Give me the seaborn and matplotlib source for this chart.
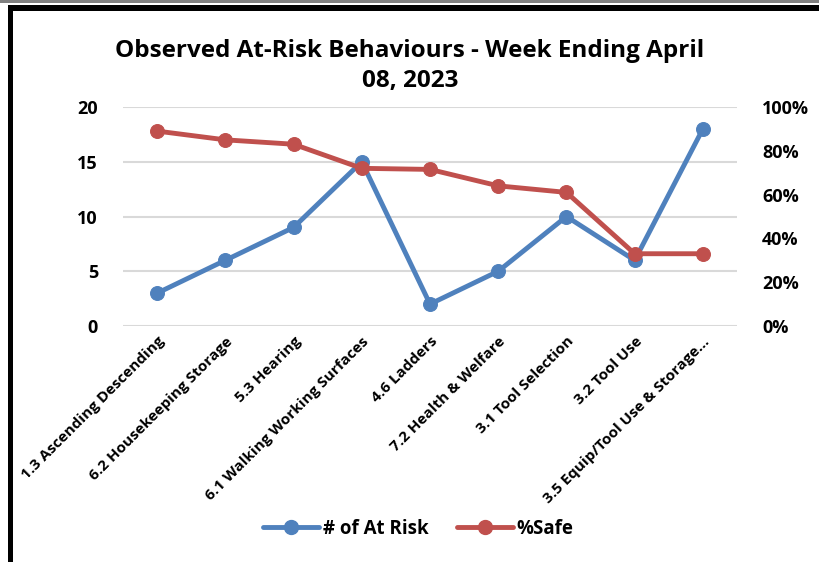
import pandas as pd
import numpy as np
import seaborn as sns
import matplotlib.pyplot as plt
from matplotlib.lines import Line2D

categories = ['1.3 Ascending Descending', '6.2 Housekeeping Storage', '5.3 Hearing',
              '6.1 Walking Working Surfaces', '4.6 Ladders', '7.2 Health & Welfare',
              '3.1 Tool Selection', '3.2 Tool Use', '3.5 Equip/Tool Use & Storage...']
at_risk = [3, 6, 9, 15, 2, 5, 10, 6, 18]
pct_safe = [0.89, 0.85, 0.83, 0.72, 0.715, 0.64, 0.61, 0.33, 0.33]

blue = '#4f81bd'
red = '#c0504d'

sns.set_style('white')
plt.rcParams['font.family'] = ['Open Sans', 'DejaVu Sans']
plt.rcParams['font.weight'] = 'bold'
plt.rcParams['text.color'] = 'black'
plt.rcParams['xtick.color'] = 'black'
plt.rcParams['ytick.color'] = 'black'

df = pd.DataFrame({'pos': np.arange(len(categories)), 'cat': categories,
                   'risk': at_risk, 'safe': pct_safe})

fig = plt.figure(figsize=(8.2, 5.62), dpi=100)
ax = fig.add_axes([123 / 820, 1 - 326 / 562, 614 / 820, 219 / 562])
ax2 = ax.twinx()

sns.lineplot(data=df, x='pos', y='risk', ax=ax, color=blue, lw=3.5, marker='o',
             markersize=10, markeredgecolor=blue, sort=False)
sns.lineplot(data=df, x='pos', y='safe', ax=ax2, color=red, lw=3.5, marker='o',
             markersize=10, markeredgecolor=red, sort=False)

ax.set_xlim(-0.5, len(categories) - 0.5)
ax.set_ylim(0, 20)
ax.set_yticks([0, 5, 10, 15, 20])
ax2.set_ylim(0, 1)
ax2.set_yticks([0, 0.2, 0.4, 0.6, 0.8, 1.0])
ax2.set_yticklabels(['0%', '20%', '40%', '60%', '80%', '100%'])

ax.yaxis.grid(True, color='#d9d9d9', lw=1.5)
ax.set_axisbelow(True)
for a in (ax, ax2):
    for s in a.spines.values():
        s.set_visible(False)
    a.set_xlabel('')
    a.set_ylabel('')
    a.tick_params(length=0, labelsize=13)

ax.tick_params(axis='y', pad=18)
ax2.tick_params(axis='y', pad=18)
ax.set_xticks(df['pos'])
ax.set_xticklabels(categories, rotation=45, ha='right', rotation_mode='anchor',
                   fontsize=11, fontweight='bold')
ax.tick_params(axis='x', pad=6)

fig.text(0.5, 1 - 66 / 562, 'Observed At-Risk Behaviours - Week Ending April\n08, 2023',
         ha='center', va='center', fontsize=17.5, fontweight='bold', linespacing=1.35)

handles = [Line2D([], [], color=blue, lw=3.5, marker='o', markersize=10),
           Line2D([], [], color=red, lw=3.5, marker='o', markersize=10)]
fig.legend(handles, ['# of At Risk', '%Safe'], loc='center', ncol=2,
           bbox_to_anchor=(0.51, 1 - 529 / 562), frameon=False, fontsize=13.5,
           handlelength=3, columnspacing=1.5, handletextpad=0.2)

# chart frame
fig.add_artist(plt.Rectangle((0, 1 - 3 / 562), 1, 3 / 562, transform=fig.transFigure,
                             color='#808080', lw=0))
fig.add_artist(plt.Rectangle((8 / 820, 1 - 11 / 562), 812 / 820, 6 / 562,
                             transform=fig.transFigure, color='black', lw=0))
fig.add_artist(plt.Rectangle((8 / 820, 0), 5 / 820, 1 - 5 / 562,
                             transform=fig.transFigure, color='black', lw=0))

fig.savefig('out.png', dpi=100)
